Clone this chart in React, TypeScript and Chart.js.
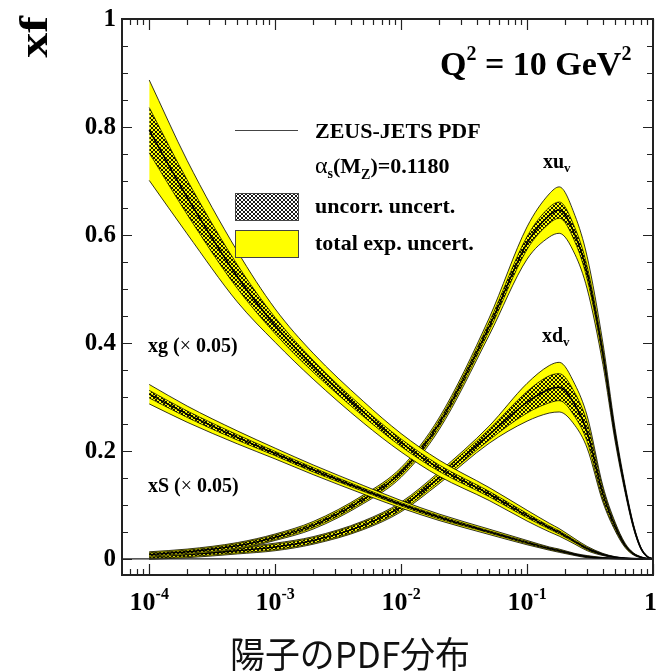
import React, { useEffect, useRef } from "react";
import { Chart, registerables } from "chart.js";

Chart.register(...registerables);

// ---- data ----
const X = [1e-4, 2e-4, 5e-4, 1e-3, 2e-3, 5e-3, 1e-2, 2e-2, 5e-2, 0.1, 0.15, 0.18, 0.24, 0.3, 0.4, 0.5, 0.6, 0.7, 0.8, 0.9, 1];

const GLUON = [0.794, 0.67, 0.523, 0.432, 0.357, 0.272, 0.215, 0.168, 0.12, 0.08, 0.058, 0.049, 0.032, 0.019, 0.008, 0.003, 0.0012, 0.0004, 0.0001, 0, 0];
const GLUON_TOT = [0.093, 0.068, 0.047, 0.031, 0.024, 0.02, 0.017, 0.015, 0.012, 0.01, 0.008, 0.007, 0.005, 0.004, 0.002, 0.001, 0.0005, 0.0002, 0, 0, 0];
const GLUON_UNC = [0.042, 0.032, 0.022, 0.015, 0.011, 0.008, 0.007, 0.006, 0.005, 0.004, 0.003, 0.003, 0.002, 0.002, 0.001, 0.0005, 0.0002, 0, 0, 0, 0];

const SEA = [0.305, 0.268, 0.225, 0.195, 0.165, 0.128, 0.101, 0.077, 0.05, 0.03, 0.019, 0.015, 0.008, 0.004, 0.0015, 0.0005, 0.0002, 0, 0, 0, 0];
const SEA_TOT = [0.018, 0.015, 0.012, 0.01, 0.009, 0.008, 0.007, 0.006, 0.005, 0.004, 0.003, 0.003, 0.002, 0.002, 0.001, 0.0005, 0, 0, 0, 0, 0];
const SEA_UNC = [0.007, 0.006, 0.005, 0.004, 0.004, 0.003, 0.003, 0.003, 0.002, 0.002, 0.0015, 0.0015, 0.001, 0.001, 0.0005, 0, 0, 0, 0, 0, 0];

const UV = [0.008, 0.013, 0.024, 0.04, 0.062, 0.11, 0.16, 0.25, 0.43, 0.585, 0.636, 0.646, 0.60, 0.53, 0.38, 0.23, 0.13, 0.06, 0.02, 0.004, 0];
const UV_TOT = [0.005, 0.005, 0.006, 0.006, 0.007, 0.008, 0.009, 0.011, 0.016, 0.03, 0.04, 0.043, 0.036, 0.03, 0.02, 0.012, 0.007, 0.004, 0.002, 0.001, 0];
const UV_UNC = [0.003, 0.003, 0.004, 0.004, 0.004, 0.005, 0.005, 0.006, 0.008, 0.012, 0.015, 0.015, 0.013, 0.012, 0.008, 0.005, 0.003, 0.002, 0.001, 0, 0];

const DV = [0.005, 0.008, 0.015, 0.022, 0.034, 0.062, 0.096, 0.15, 0.23, 0.29, 0.314, 0.318, 0.285, 0.235, 0.12, 0.06, 0.025, 0.009, 0.003, 0.0005, 0];
const DV_TOT = [0.006, 0.006, 0.006, 0.007, 0.007, 0.008, 0.009, 0.011, 0.016, 0.035, 0.044, 0.046, 0.038, 0.03, 0.015, 0.008, 0.004, 0.002, 0.001, 0, 0];
const DV_UNC = [0.004, 0.004, 0.004, 0.005, 0.005, 0.006, 0.006, 0.007, 0.01, 0.02, 0.025, 0.025, 0.022, 0.018, 0.01, 0.005, 0.002, 0.001, 0, 0, 0];

const X_MIN = 6.08e-5;
const X_MAX = 1;
const Y_MIN = -0.03;
const Y_MAX = 1;

const Y_TICK_VALUES = [0, 0.2, 0.4, 0.6, 0.8, 1];
const Y_TICK_LABELS = ["0", "0.2", "0.4", "0.6", "0.8", "1"];
const X_TICK_VALUES = [1e-4, 1e-3, 1e-2, 1e-1, 1];
const X_TICK_BASES = ["10", "10", "10", "10", "1"];
const X_TICK_EXPS = ["-4", "-3", "-2", "-1", ""];

const Y_TITLE = "xf";
const X_TITLE = "陽子のPDF分布";

const YELLOW = "#ffff00";
const SERIF = "'Liberation Serif', 'Times New Roman', serif";

function makeHatch(ctx: CanvasRenderingContext2D): CanvasPattern | string {
  const c = document.createElement("canvas");
  c.width = 4;
  c.height = 4;
  const g = c.getContext("2d");
  if (!g) return "rgba(0,0,0,0.5)";
  g.strokeStyle = "rgba(0,0,0,0.9)";
  g.lineWidth = 1;
  g.beginPath();
  g.moveTo(-1, -1);
  g.lineTo(5, 5);
  g.moveTo(5, -1);
  g.lineTo(-1, 5);
  g.moveTo(-1, 3);
  g.lineTo(1, 5);
  g.moveTo(3, -1);
  g.lineTo(5, 1);
  g.moveTo(-1, 1);
  g.lineTo(1, -1);
  g.moveTo(3, 5);
  g.lineTo(5, 3);
  g.stroke();
  const p = ctx.createPattern(c, "repeat");
  return p || "rgba(0,0,0,0.5)";
}

function pts(c: number[], d: number[], sign: number) {
  return X.map((x, i) => ({ x, y: c[i] + sign * d[i] }));
}

function seriesDatasets(base: number, c: number[], tot: number[], unc: number[], hatch: any) {
  const common = {
    pointRadius: 0,
    cubicInterpolationMode: "monotone" as const,
    borderColor: "#000",
  };
  return [
    { ...common, data: pts(c, tot, 1), fill: "+1", backgroundColor: YELLOW, borderWidth: 0.8, order: base + 4 },
    { ...common, data: pts(c, tot, -1), fill: false, borderWidth: 0.8, order: base + 3 },
    { ...common, data: pts(c, unc, 1), fill: "+1", backgroundColor: hatch, borderWidth: 0.7, order: base + 2 },
    { ...common, data: pts(c, unc, -1), fill: false, borderWidth: 0.7, order: base + 1 },
    { ...common, data: pts(c, unc, 0), fill: false, borderWidth: 1.5, order: base },
  ];
}

function drawRich(ctx: CanvasRenderingContext2D, x: number, y: number, parts: [string, number, number, boolean?][]) {
  let cx = x;
  for (const [t, size, shift, bold] of parts) {
    ctx.font = `${bold === false ? "" : "bold "}${size}px ${SERIF}`;
    ctx.fillText(t, cx, y + shift);
    cx += ctx.measureText(t).width;
  }
  return cx;
}

const overlay = {
  id: "overlay",
  afterDraw(chart: any) {
    const { ctx, chartArea: a, scales } = chart;
    const xs = scales.x;
    const ys = scales.y;
    ctx.save();
    ctx.strokeStyle = "#222";
    ctx.fillStyle = "#000";

    // zero line
    const y0 = ys.getPixelForValue(0);
    ctx.lineWidth = 1.3;
    ctx.beginPath();
    ctx.moveTo(a.left, y0);
    ctx.lineTo(a.right, y0);
    ctx.stroke();

    // ticks
    ctx.lineWidth = 1.2;
    ctx.beginPath();
    for (let k = 0; k <= 20; k++) {
      const v = k * 0.05;
      const py = Math.round(ys.getPixelForValue(v)) + 0.5;
      const len = k % 4 === 0 ? 10 : 6;
      ctx.moveTo(a.left, py);
      ctx.lineTo(a.left + len, py);
      ctx.moveTo(a.right, py);
      ctx.lineTo(a.right - len, py);
    }
    for (let d = -5; d <= 0; d++) {
      for (let m = 1; m <= 9; m++) {
        const v = m * Math.pow(10, d);
        if (v < X_MIN || v > X_MAX * 1.0001) continue;
        const px = Math.round(xs.getPixelForValue(v)) + 0.5;
        const len = m === 1 ? 11 : 6;
        ctx.moveTo(px, a.bottom);
        ctx.lineTo(px, a.bottom - len);
        ctx.moveTo(px, a.top);
        ctx.lineTo(px, a.top + len);
      }
    }
    ctx.stroke();

    // frame
    ctx.lineWidth = 2;
    ctx.strokeStyle = "#222";
    ctx.strokeRect(a.left, a.top, a.right - a.left, a.bottom - a.top);

    // y tick labels
    ctx.fillStyle = "#000";
    ctx.font = `bold 25px ${SERIF}`;
    ctx.textAlign = "right";
    ctx.textBaseline = "middle";
    Y_TICK_VALUES.forEach((v, i) => {
      ctx.fillText(Y_TICK_LABELS[i], a.left - 6, ys.getPixelForValue(v) + 1);
    });

    // x tick labels
    ctx.textAlign = "left";
    ctx.textBaseline = "alphabetic";
    X_TICK_VALUES.forEach((v, i) => {
      const base = X_TICK_BASES[i];
      const ex = X_TICK_EXPS[i];
      ctx.font = `bold 26px ${SERIF}`;
      const wb = ctx.measureText(base).width;
      ctx.font = `bold 16px ${SERIF}`;
      const we = ex ? ctx.measureText(ex).width : 0;
      const px = xs.getPixelForValue(v);
      let sx = px - (wb + we) / 2;
      if (sx + wb + we > 657) sx = 657 - wb - we;
      drawRich(ctx, sx, 610, [[base, 26, 0], [ex, 16, -11]]);
    });

    // y title
    ctx.save();
    ctx.translate(47, 37);
    ctx.rotate(-Math.PI / 2);
    ctx.scale(1.25, 1);
    ctx.textAlign = "center";
    ctx.textBaseline = "alphabetic";
    ctx.font = `bold 40px ${SERIF}`;
    ctx.fillText(Y_TITLE, 0, 0);
    ctx.restore();

    // x title
    ctx.save();
    ctx.font = `36px 'Noto Sans CJK JP', sans-serif`;
    const tw = ctx.measureText(X_TITLE).width;
    ctx.translate(350, 668);
    ctx.scale(240 / tw, 1);
    ctx.textAlign = "center";
    ctx.textBaseline = "alphabetic";
    ctx.fillStyle = "#111";
    ctx.fillText(X_TITLE, 0, 0);
    ctx.restore();

    // Q^2 label
    ctx.textAlign = "left";
    ctx.textBaseline = "alphabetic";
    drawRich(ctx, 440, 75, [["Q", 34, 0], ["2", 20, -15], [" = 10 GeV", 34, 0], ["2", 20, -15]]);

    // legend
    ctx.strokeStyle = "#444";
    ctx.lineWidth = 1.2;
    ctx.beginPath();
    ctx.moveTo(235, 130.5);
    ctx.lineTo(298, 130.5);
    ctx.stroke();
    drawRich(ctx, 315, 138, [["ZEUS-JETS PDF", 22, 0]]);
    let ax = drawRich(ctx, 315, 173, [["α", 24, 0, false]]);
    ax = drawRich(ctx, ax, 173, [["s", 14, 5], ["(M", 22, 0], ["Z", 14, 6], [")=0.1180", 22, 0]]);

    ctx.fillStyle = "#fff";
    ctx.fillRect(235, 193, 63, 27);
    ctx.fillStyle = chart.$hatch;
    ctx.fillRect(235, 193, 63, 27);
    ctx.lineWidth = 1;
    ctx.strokeRect(235.5, 193.5, 63, 27);
    ctx.fillStyle = YELLOW;
    ctx.fillRect(235, 230, 63, 27);
    ctx.strokeRect(235.5, 230.5, 63, 27);
    ctx.fillStyle = "#000";
    drawRich(ctx, 315, 213, [["uncorr. uncert.", 22, 0]]);
    drawRich(ctx, 315, 250, [["total exp. uncert.", 22, 0]]);

    // curve labels
    drawRich(ctx, 543, 168, [["xu", 20, 0], ["v", 13, 4]]);
    drawRich(ctx, 542, 342, [["xd", 20, 0], ["v", 13, 4]]);
    drawRich(ctx, 148, 352, [["xg (", 20, 0], ["×", 20, 0, false], [" 0.05)", 20, 0]]);
    drawRich(ctx, 148, 492, [["xS (", 20, 0], ["×", 20, 0, false], [" 0.05)", 20, 0]]);

    ctx.restore();
  },
};

export default function App() {
  const ref = useRef<HTMLCanvasElement>(null);
  useEffect(() => {
    const canvas = ref.current;
    if (!canvas) return;
    const ctx = canvas.getContext("2d");
    if (!ctx) return;
    const hatch = makeHatch(ctx);
    const datasets = [
      ...seriesDatasets(0, GLUON, GLUON_TOT, GLUON_UNC, hatch),
      ...seriesDatasets(10, SEA, SEA_TOT, SEA_UNC, hatch),
      ...seriesDatasets(20, UV, UV_TOT, UV_UNC, hatch),
      ...seriesDatasets(30, DV, DV_TOT, DV_UNC, hatch),
    ];
    const chart: any = new Chart(ctx, {
      type: "line",
      data: { datasets: datasets as any },
      options: {
        responsive: false,
        animation: false,
        events: [],
        layout: { padding: { left: 122, right: 5, top: 19, bottom: 96 } },
        plugins: { legend: { display: false }, tooltip: { enabled: false }, title: { display: false } },
        scales: {
          x: { type: "logarithmic", min: X_MIN, max: X_MAX, display: false },
          y: { type: "linear", min: Y_MIN, max: Y_MAX, display: false },
        },
      },
      plugins: [overlay],
    });
    chart.$hatch = hatch;
    chart.draw();
    return () => chart.destroy();
  }, []);
  return (
    <div style={{ position: "fixed", left: 0, top: 0, width: 658, height: 671, background: "#fff" }}>
      <canvas ref={ref} width={658} height={671} style={{ display: "block" }} />
    </div>
  );
}
